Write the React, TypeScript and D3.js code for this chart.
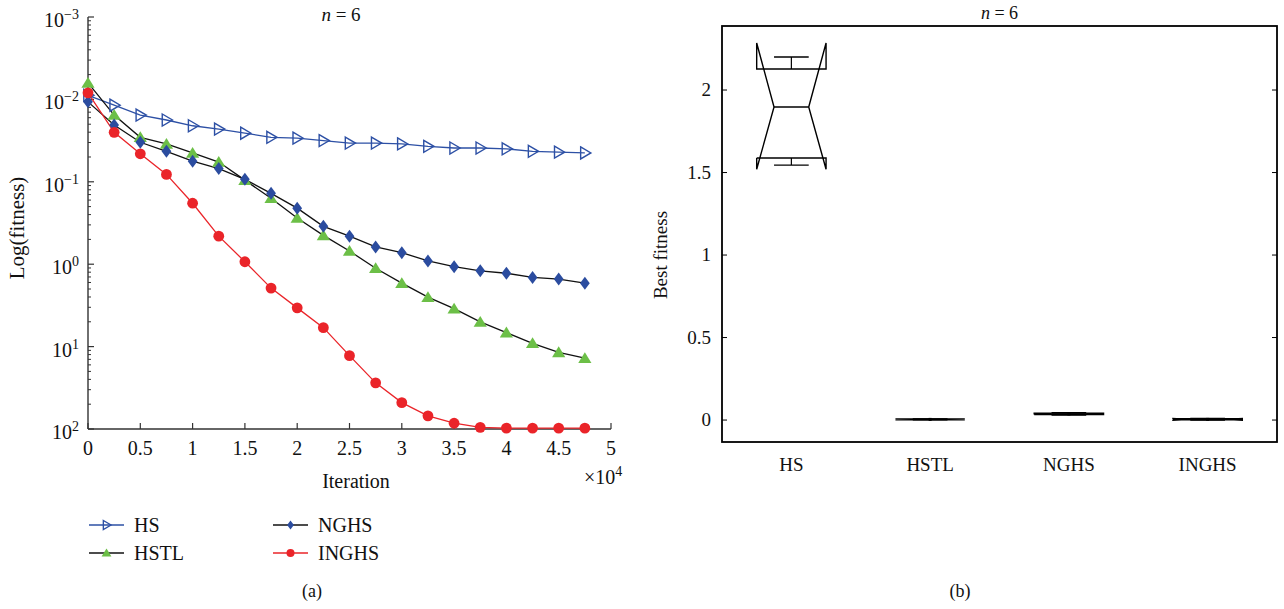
import React from "react";
import * as d3 from "d3";

// ---------- data (a) ----------
const iterations = [0, 0.25, 0.5, 0.75, 1, 1.25, 1.5, 1.75, 2, 2.25, 2.5, 2.75, 3, 3.25, 3.5, 3.75, 4, 4.25, 4.5, 4.75];
// exponents (label 10^k)
const hsValues = [-2.05, -1.93, -1.81, -1.75, -1.68, -1.64, -1.59, -1.54, -1.53, -1.5, -1.47, -1.47, -1.46, -1.43, -1.41, -1.41, -1.4, -1.37, -1.36, -1.35];
const hstlValues = [-2.2, -1.81, -1.54, -1.46, -1.35, -1.24, -1.02, -0.8, -0.56, -0.35, -0.16, 0.05, 0.23, 0.4, 0.54, 0.7, 0.83, 0.96, 1.07, 1.14];
const nghsValues = [-1.97, -1.69, -1.48, -1.37, -1.25, -1.16, -1.03, -0.86, -0.68, -0.46, -0.34, -0.21, -0.14, -0.04, 0.03, 0.08, 0.11, 0.16, 0.18, 0.23];
const inghsValues = [-2.08, -1.6, -1.34, -1.09, -0.74, -0.34, -0.03, 0.29, 0.53, 0.77, 1.11, 1.44, 1.68, 1.84, 1.93, 1.98, 1.99, 1.99, 1.99, 1.99];
const xTicks = [0, 0.5, 1, 1.5, 2, 2.5, 3, 3.5, 4, 4.5, 5];
const yDecades = [-3, -2, -1, 0, 1, 2];

// ---------- data (b) ----------
const boxCategories = ["HS", "HSTL", "NGHS", "INGHS"];
const boxQ1 = [1.588, 0.002, 0.033, 0.001];
const boxMedian = [1.897, 0.004, 0.037, 0.004];
const boxQ3 = [2.127, 0.006, 0.042, 0.008];
const boxWhiskerLow = [1.545, 0.001, 0.031, 0.0];
const boxWhiskerHigh = [2.2, 0.007, 0.044, 0.009];
const boxNotchLow = [1.52, 0.002, 0.034, -0.002];
const boxNotchHigh = [2.285, 0.006, 0.04, 0.01];
const boxYTicks = [0, 0.5, 1, 1.5, 2];

const FONT = "'Liberation Serif', 'DejaVu Serif', serif";
const BLUE = "#2d50a5";
const GREEN = "#6cbf47";
const RED = "#ea2429";
const DIAMOND = "#2b4c9f";
const FS = 20;

const xA = d3.scaleLinear().domain([0, 5]).range([88, 611]);
const yA = d3.scaleLinear().domain([-3, 2]).range([17, 429]);

const xB = d3.scaleLinear().domain([0.5, 4.5]).range([722, 1277]);
const yB = d3.scaleLinear().domain([-0.133, 2.388]).range([442, 26]);

const triRight = (s: number) => `M${-0.7 * s},${-s} L${s},0 L${-0.7 * s},${s} Z`;
const triUp = (s: number) => `M0,${-s} L${s * 1.1},${s * 0.8} L${-s * 1.1},${s * 0.8} Z`;
const diamond = (s: number) => `M0,${-s} L${s * 0.75},0 L0,${s} L${-s * 0.75},0 Z`;

type Series = { name: string; values: number[]; line: string; marker: (x: number, y: number, k: string, small?: boolean) => JSX.Element };

const series: Series[] = [
  {
    name: "HS",
    values: hsValues,
    line: BLUE,
    marker: (x, y, k, small) => (
      <path key={k} d={triRight(small ? 4.5 : 6)} transform={`translate(${x},${y})`} fill="none" stroke={BLUE} strokeWidth={1.4} />
    ),
  },
  {
    name: "HSTL",
    values: hstlValues,
    line: "#111",
    marker: (x, y, k, small) => (
      <path key={k} d={triUp(small ? 4.5 : 6)} transform={`translate(${x},${y})`} fill={GREEN} />
    ),
  },
  {
    name: "NGHS",
    values: nghsValues,
    line: "#111",
    marker: (x, y, k, small) => (
      <path key={k} d={diamond(small ? 4.5 : 6.5)} transform={`translate(${x},${y})`} fill={DIAMOND} />
    ),
  },
  {
    name: "INGHS",
    values: inghsValues,
    line: RED,
    marker: (x, y, k, small) => <circle key={k} cx={x} cy={y} r={small ? 4 : 5.4} fill={RED} />,
  },
];

function Pow({ x, y, exp, anchor }: { x: number; y: number; exp: number; anchor: string }) {
  const e = exp < 0 ? `\u2212${Math.abs(exp)}` : `${exp}`;
  return (
    <text x={x} y={y} textAnchor={anchor} fontFamily={FONT} fontSize={FS} fill="#111">
      10
      <tspan dy={-8} fontSize={14}>
        {e}
      </tspan>
    </text>
  );
}

function PanelA() {
  const line = d3
    .line<number>()
    .x((_, i) => xA(iterations[i]))
    .y((v) => yA(v));
  const minor: number[] = [];
  for (let k = -3; k < 2; k++) {
    for (let m = 2; m <= 9; m++) minor.push(k + 1 - Math.log10(m));
  }
  const [x0, x1] = xA.range();
  const [yTop, yBot] = yA.range();
  return (
    <g>
      {/* axes */}
      <line x1={x0} y1={yTop} x2={x0} y2={yBot} stroke="#333" strokeWidth={1.4} />
      <line x1={x0} y1={yBot} x2={x1} y2={yBot} stroke="#333" strokeWidth={1.4} />
      {yDecades.map((d) => (
        <g key={`yd${d}`}>
          <line x1={x0} x2={x0 + 6} y1={yA(d)} y2={yA(d)} stroke="#333" strokeWidth={1.2} />
          <Pow x={79} y={yA(d) + 10} exp={d} anchor="end" />
        </g>
      ))}
      {minor.map((m, i) => (
        <line key={`mn${i}`} x1={x0} x2={x0 + 3} y1={yA(m)} y2={yA(m)} stroke="#333" strokeWidth={1} />
      ))}
      {xTicks.map((t) => (
        <g key={`xt${t}`}>
          <line x1={xA(t)} x2={xA(t)} y1={yBot} y2={yBot - 6} stroke="#333" strokeWidth={1.2} />
          <text x={xA(t)} y={yBot + 26} textAnchor="middle" fontFamily={FONT} fontSize={FS} fill="#111">
            {t}
          </text>
        </g>
      ))}
      <text x={356} y={488} textAnchor="middle" fontFamily={FONT} fontSize={FS} fill="#111">
        Iteration
      </text>
      <text x={584} y={484} fontFamily={FONT} fontSize={FS} fill="#111">
        ×10
        <tspan dy={-8} fontSize={14}>
          4
        </tspan>
      </text>
      <text transform={`translate(24,228) rotate(-90)`} textAnchor="middle" fontFamily={FONT} fontSize={21} fill="#111">
        Log(fitness)
      </text>
      <text x={341} y={21} textAnchor="middle" fontFamily={FONT} fontSize={19} fill="#111">
        <tspan fontStyle="italic">n</tspan> = 6
      </text>
      {/* series */}
      {series.map((s) => (
        <path key={`l${s.name}`} d={line(s.values) || ""} fill="none" stroke={s.line} strokeWidth={1.3} />
      ))}
      {series.map((s) => (
        <g key={`m${s.name}`}>{s.values.map((v, i) => s.marker(xA(iterations[i]), yA(v), `${s.name}${i}`))}</g>
      ))}
      {/* legend */}
      {series.map((s, i) => {
        const col = i === 0 || i === 1 ? 0 : 1;
        const row = i === 0 || i === 2 ? 0 : 1;
        const lx = col === 0 ? 89 : 273;
        const ly = row === 0 ? 525 : 553;
        return (
          <g key={`lg${s.name}`}>
            <line x1={lx} x2={lx + 35} y1={ly} y2={ly} stroke={s.line} strokeWidth={1.3} />
            {s.marker(lx + 17.5, ly, `lgm${s.name}`, true)}
            <text x={lx + 45} y={ly + 7} fontFamily={FONT} fontSize={FS} fill="#111">
              {s.name}
            </text>
          </g>
        );
      })}
      <text x={312} y={597} textAnchor="middle" fontFamily={FONT} fontSize={18} fill="#111">
        (a)
      </text>
    </g>
  );
}

function PanelB() {
  const [x0, x1] = xB.range();
  const [yBot, yTop] = yB.range();
  const halfW = 0.25;
  const capW = 0.125;
  const notchIn = 0.125;
  return (
    <g>
      <rect x={x0} y={yTop} width={x1 - x0} height={yBot - yTop} fill="none" stroke="#000" strokeWidth={1.8} />
      {boxYTicks.map((t) => (
        <g key={`by${t}`}>
          <line x1={x0} x2={x0 + 5} y1={yB(t)} y2={yB(t)} stroke="#000" strokeWidth={1} />
          <line x1={x1} x2={x1 - 5} y1={yB(t)} y2={yB(t)} stroke="#000" strokeWidth={1} />
          <text x={711} y={yB(t) + 6} textAnchor="end" fontFamily={FONT} fontSize={19} fill="#111">
            {t}
          </text>
        </g>
      ))}
      {boxCategories.map((c, i) => {
        const cx = i + 1;
        const L = xB(cx - halfW);
        const R = xB(cx + halfW);
        const mL = xB(cx - notchIn);
        const mR = xB(cx + notchIn);
        const q1 = yB(boxQ1[i]);
        const q3 = yB(boxQ3[i]);
        const med = yB(boxMedian[i]);
        const nlo = yB(boxNotchLow[i]);
        const nhi = yB(boxNotchHigh[i]);
        const pts: [number, number][] = [
          [L, q1], [L, nlo], [mL, med], [L, nhi], [L, q3], [R, q3], [R, nhi], [mR, med], [R, nlo], [R, q1], [L, q1],
        ];
        const wLo = yB(boxWhiskerLow[i]);
        const wHi = yB(boxWhiskerHigh[i]);
        const cxp = xB(cx);
        return (
          <g key={`bx${c}`}>
            <path d={d3.line()(pts) || ""} fill="none" stroke="#000" strokeWidth={1.4} />
            <line x1={mL} x2={mR} y1={med} y2={med} stroke="#000" strokeWidth={1.4} />
            <line x1={cxp} x2={cxp} y1={q3} y2={wHi} stroke="#000" strokeWidth={1.2} />
            <line x1={cxp} x2={cxp} y1={q1} y2={wLo} stroke="#000" strokeWidth={1.2} />
            <line x1={xB(cx - capW)} x2={xB(cx + capW)} y1={wHi} y2={wHi} stroke="#000" strokeWidth={1.4} />
            <line x1={xB(cx - capW)} x2={xB(cx + capW)} y1={wLo} y2={wLo} stroke="#000" strokeWidth={1.4} />
            {i > 0 && <rect x={cxp - 1.5} y={med - 1.5} width={3} height={3} fill="#000" />}
            <text x={cxp} y={471} textAnchor="middle" fontFamily={FONT} fontSize={19} fill="#111">
              {c}
            </text>
          </g>
        );
      })}
      <text transform={`translate(667,255) rotate(-90)`} textAnchor="middle" fontFamily={FONT} fontSize={19} fill="#111">
        Best fitness
      </text>
      <text x={(x0 + x1) / 2} y={19} textAnchor="middle" fontFamily={FONT} fontSize={18} fill="#111">
        <tspan fontStyle="italic">n</tspan> = 6
      </text>
      <text x={960} y={597} textAnchor="middle" fontFamily={FONT} fontSize={18} fill="#111">
        (b)
      </text>
    </g>
  );
}

export default function App() {
  return (
    <svg width={1284} height={609} style={{ position: "absolute", left: 0, top: 0, background: "#fff" }}>
      <rect width={1284} height={609} fill="#fff" />
      <PanelA />
      <PanelB />
    </svg>
  );
}
